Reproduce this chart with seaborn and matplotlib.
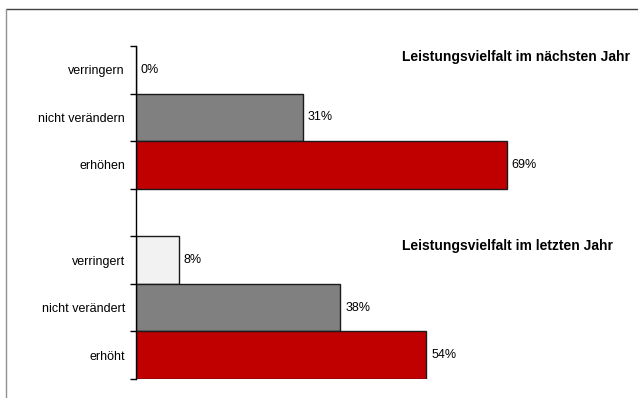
import matplotlib
matplotlib.use("Agg")
import matplotlib.pyplot as plt
from matplotlib.lines import Line2D
import pandas as pd
import seaborn as sns

# Survey answers on service variety, next year (top) and last year (bottom)
labels_next = ["verringern", "nicht verändern", "erhöhen"]
values_next = [0, 31, 69]
labels_last = ["verringert", "nicht verändert", "erhöht"]
values_last = [8, 38, 54]
title_next = "Leistungsvielfalt im nächsten Jahr"
title_last = "Leistungsvielfalt im letzten Jahr"

bar_colors = ["#F2F2F2", "#808080", "#C00000"]

sns.set_theme(style="white")
plt.rcParams["font.family"] = ["Liberation Sans", "DejaVu Sans"]

df = pd.DataFrame({
    "label": labels_next + labels_last,
    "value": values_next + values_last,
})
order = labels_next + [" "] + labels_last
palette = dict(zip(labels_next + labels_last, bar_colors + bar_colors))

W, H = 638, 398
fig = plt.figure(figsize=(W / 100, H / 100), dpi=100)
ax = fig.add_axes([136 / W, 1 - 379 / H, 500 / W, 333 / H])

sns.barplot(data=df, x="value", y="label", hue="label", order=order,
            hue_order=labels_next + labels_last, palette=palette,
            width=1.0, edgecolor="#1a1a1a", linewidth=1.0,
            legend=False, ax=ax, saturation=1)

ax.set_xlim(0, 93)
ax.set_ylim(6.5, -0.5)
ax.set_xlabel("")
ax.set_ylabel("")
ax.set_xticks([])

for side in ("top", "right", "bottom"):
    ax.spines[side].set_visible(False)
ax.spines["left"].set_color("black")
ax.spines["left"].set_linewidth(1.0)

ax.set_yticks(range(len(order)))
ax.set_yticklabels(order, fontsize=9, color="black")
ax.tick_params(axis="y", which="major", length=0, pad=8)
ax.set_yticks([i - 0.5 for i in range(len(order) + 1)], minor=True)
ax.tick_params(axis="y", which="minor", length=4, width=1, color="black",
               direction="out", left=True)

for cont in ax.containers:
    ax.bar_label(cont, labels=[f"{v:.0f}%" for v in cont.datavalues],
                 padding=3.5, fontsize=9, color="black")

fig.text(402 / W, 1 - 57 / H, title_next, fontsize=10, fontweight="bold",
         ha="left", va="center", color="black")
fig.text(402 / W, 1 - 246 / H, title_last, fontsize=10, fontweight="bold",
         ha="left", va="center", color="black")

# outer frame lines (top and left)
fig.add_artist(Line2D([6 / W, 1], [1 - 9 / H, 1 - 9 / H], color="#404040",
                      linewidth=1.0, transform=fig.transFigure))
fig.add_artist(Line2D([6 / W, 6 / W], [0, 1 - 9 / H], color="#909090",
                      linewidth=1.0, transform=fig.transFigure))

fig.savefig("out.png", dpi=100)
